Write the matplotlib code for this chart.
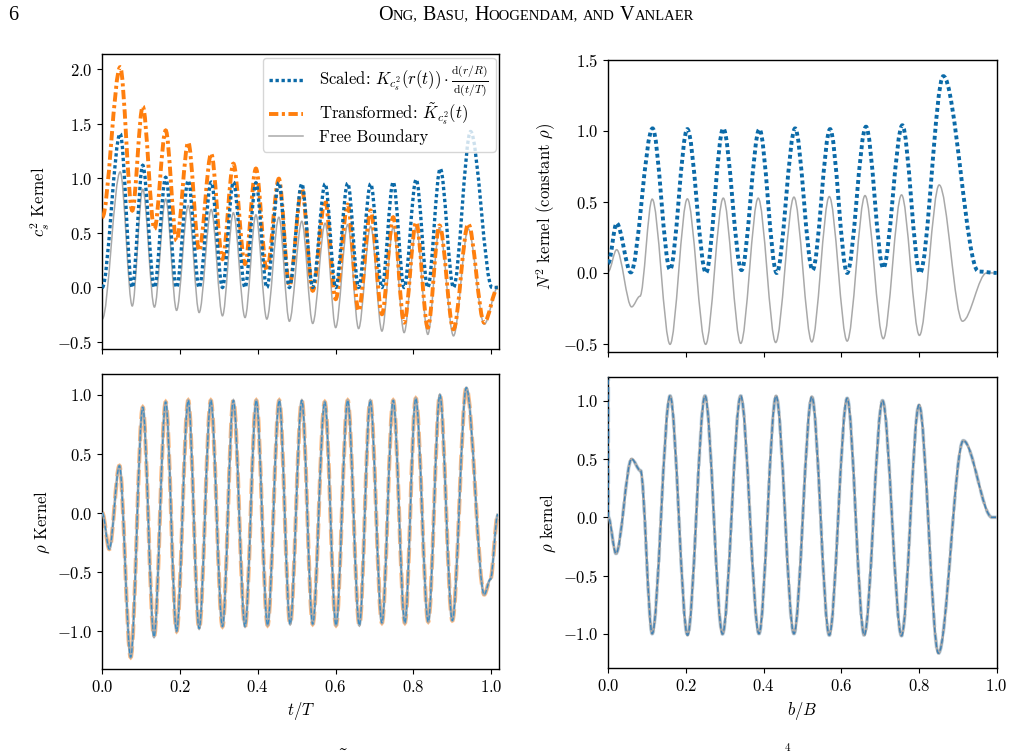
import matplotlib
matplotlib.use("Agg")
import matplotlib.pyplot as plt
from matplotlib.path import Path
from matplotlib.patches import PathPatch
from matplotlib.lines import Line2D

# ---------------- data (extrema / knots) ----------------
# top-left: c_s^2 kernels vs t/T
tl_t = [0.000, 0.046, 0.077, 0.104, 0.134, 0.163, 0.191, 0.221, 0.249, 0.280, 0.309,
        0.337, 0.367, 0.395, 0.423, 0.454, 0.481, 0.513, 0.541, 0.573, 0.600, 0.631,
        0.659, 0.690, 0.719, 0.748, 0.776, 0.807, 0.837, 0.867, 0.903, 0.941, 0.982, 1.017]
tl_free = [-0.29, 1.06, -0.17, 0.90, -0.18, 0.81, -0.21, 0.75, -0.23, 0.715, -0.26,
           0.685, -0.276, 0.666, -0.29, 0.644, -0.31, 0.607, -0.33, 0.589, -0.368, 0.577,
           -0.377, 0.561, -0.40, 0.552, -0.414, 0.552, -0.43, 0.546, -0.444, 0.537, -0.337, 0.0]
tl_trans = [0.644, 2.02, 0.705, 1.66, 0.537, 1.44, 0.43, 1.33, 0.337, 1.227, 0.26,
            1.135, 0.215, 1.09, 0.154, 0.997, 0.016, 0.905, -0.03, 0.80, -0.107, 0.76,
            -0.214, 0.706, -0.245, 0.644, -0.322, 0.598, -0.368, 0.568, -0.383, 0.583, -0.322, 0.0]
tl_scaled_t = [0.000, 0.046, 0.077, 0.104, 0.134, 0.163, 0.191, 0.221, 0.249, 0.280, 0.309,
               0.337, 0.367, 0.395, 0.423, 0.454, 0.481, 0.513, 0.541, 0.573, 0.600, 0.631,
               0.659, 0.690, 0.719, 0.748, 0.776, 0.807, 0.837, 0.869, 0.903, 0.947, 1.002, 1.017]
tl_scaled = [0.0, 1.41, 0.0, 1.12, 0.0, 1.01, 0.0, 0.98, 0.0, 0.966, 0.0,
             0.966, 0.0, 0.96, 0.0, 0.96, 0.0, 0.95, 0.0, 0.95, 0.0, 0.955,
             0.0, 0.95, 0.0, 0.966, 0.0, 0.99, 0.0, 1.09, 0.0, 1.43, 0.0, 0.0]

# top-right: N^2 kernel (constant rho) vs b/B
tr_scaled_b = [0.000, 0.0215, 0.058, 0.114, 0.159, 0.2035, 0.2515, 0.296, 0.343, 0.389, 0.4335,
               0.481, 0.526, 0.571, 0.615, 0.6635, 0.708, 0.757, 0.8025, 0.8626, 0.953, 1.000]
tr_scaled = [0.07, 0.351, 0.004, 1.018, 0.023, 1.013, 0.0, 1.018, 0.02, 1.013, 0.0,
             1.018, 0.02, 1.013, 0.0, 1.03, 0.035, 1.04, 0.0, 1.386, 0.01, 0.0]
tr_free_b = [0.000, 0.0215, 0.060, 0.0816, 0.113, 0.159, 0.2035, 0.2507, 0.296, 0.341, 0.386,
             0.431, 0.478, 0.524, 0.569, 0.615, 0.661, 0.708, 0.755, 0.801, 0.852, 0.912, 0.974, 1.000]
tr_free = [0.01, 0.164, -0.239, -0.164, 0.52, -0.503, 0.522, -0.503, 0.527, -0.496, 0.527,
           -0.49, 0.534, -0.486, 0.538, -0.48, 0.545, -0.463, 0.55, -0.44, 0.62, -0.34, 0.0, 0.0]

# bottom-left: rho kernel vs t/T (all three curves coincide)
bl_t = [0.000, 0.018, 0.044, 0.073, 0.104, 0.133, 0.163, 0.191, 0.221, 0.249, 0.279, 0.309,
        0.337, 0.367, 0.396, 0.425, 0.455, 0.483, 0.513, 0.541, 0.572, 0.601, 0.631, 0.661,
        0.689, 0.719, 0.748, 0.778, 0.806, 0.838, 0.868, 0.900, 0.936, 0.982, 0.998, 1.017]
bl_rho = [0.0, -0.305, 0.40, -1.22, 0.895, -1.047, 0.94, -1.0, 0.953, -0.977, 0.953, -0.96,
          0.953, -0.96, 0.953, -0.95, 0.953, -0.94, 0.953, -0.94, 0.94, -0.95, 0.953, -0.95,
          0.953, -0.93, 0.953, -0.93, 0.97, -0.92, 1.0, -0.91, 1.06, -0.69, -0.56, -0.01]

# bottom-right: rho kernel vs b/B
br_b = [0.000, 0.0198, 0.060, 0.083, 0.113, 0.159, 0.204, 0.249, 0.294, 0.341, 0.388, 0.432,
        0.478, 0.524, 0.569, 0.615, 0.659, 0.706, 0.755, 0.800, 0.850, 0.914, 0.988, 1.000]
br_rho = [0.0, -0.31, 0.50, 0.40, -0.997, 1.04, -1.01, 1.04, -1.0, 1.04, -0.997, 1.04,
          -0.997, 1.033, -1.01, 1.02, -1.01, 1.0, -1.015, 0.963, -1.165, 0.657, 0.0, 0.0]
br_edge_value = 2.0  # scaled curve diverges at b = 0 (clipped)

x_ticks = [0.0, 0.2, 0.4, 0.6, 0.8, 1.0]

# ---------------- style ----------------
plt.rcParams.update({
    "font.family": "serif",
    "font.serif": ["cmr10"],
    "mathtext.fontset": "cm",
    "axes.formatter.use_mathtext": True,
    "font.size": 12,
    "axes.linewidth": 1.0,
})

BLUE = "#0b6aa8"
ORANGE = "#ff7f0e"
GRAY = "#a9a9a9"
DOT = (0, (1.0, 0.8))
DASHDOT = (0, (2.4, 0.9, 0.8, 0.9))


def smooth_path(x, y):
    verts = [(x[0], y[0])]
    codes = [Path.MOVETO]
    for i in range(len(x) - 1):
        d = (x[i + 1] - x[i]) / 3.0
        verts += [(x[i] + d, y[i]), (x[i + 1] - d, y[i + 1]), (x[i + 1], y[i + 1])]
        codes += [Path.CURVE4] * 3
    return Path(verts, codes)


def draw(ax, x, y, **kw):
    p = PathPatch(smooth_path(x, y), fill=False, **kw)
    ax.add_patch(p)
    return p


fig = plt.figure(figsize=(10.14, 7.56), dpi=100)
W, H = 1014.0, 756.0


def add_ax(l, t, r, b):
    return fig.add_axes([l / W, 1 - b / H, (r - l) / W, (b - t) / H])


ax_tl = add_ax(102.3, 54.3, 499.0, 349.3)
ax_tr = add_ax(608.3, 60.0, 996.7, 352.3)
ax_bl = add_ax(102.3, 374.3, 499.0, 669.0)
ax_br = add_ax(608.3, 377.3, 996.7, 668.3)

# top-left
draw(ax_tl, tl_t, tl_free, color=GRAY, lw=1.1, zorder=2)
draw(ax_tl, tl_t, tl_trans, color=ORANGE, lw=2.8, ls=DASHDOT, zorder=3)
draw(ax_tl, tl_scaled_t, tl_scaled, color=BLUE, lw=2.4, ls=DOT, zorder=4)
ax_tl.set_xlim(0, 1.02)
ax_tl.set_ylim(-0.567, 2.138)
ax_tl.set_yticks([-0.5, 0.0, 0.5, 1.0, 1.5, 2.0])
ax_tl.set_ylabel(r"$c_s^2$ Kernel")
handles = [
    Line2D([], [], color=BLUE, lw=2.4, ls=DOT),
    Line2D([], [], color=ORANGE, lw=2.8, ls=DASHDOT),
    Line2D([], [], color=GRAY, lw=1.1),
]
labels = [
    r"Scaled: $K_{c_s^2}(r(t))\cdot\frac{\mathrm{d}(r/R)}{\mathrm{d}(t/T)}$",
    r"Transformed: $\tilde{K}_{c_s^2}(t)$",
    "Free Boundary",
]
ax_tl.legend(handles, labels, loc="upper right", fontsize=12, labelspacing=0.12,
             borderaxespad=0.2, handlelength=2.0, handletextpad=1.0, borderpad=0.4)

# top-right
draw(ax_tr, tr_free_b, tr_free, color=GRAY, lw=1.1, zorder=2)
draw(ax_tr, tr_scaled_b, tr_scaled, color=BLUE, lw=2.8, ls=DOT, zorder=3)
ax_tr.set_xlim(0, 1)
ax_tr.set_ylim(-0.559, 1.5)
ax_tr.set_yticks([-0.5, 0.0, 0.5, 1.0, 1.5])
ax_tr.set_ylabel(r"$N^2$ kernel (constant $\rho$)")

# bottom-left
draw(ax_bl, bl_t, bl_rho, color=ORANGE, lw=3.0, ls="--", alpha=0.5, zorder=2)
draw(ax_bl, bl_t, bl_rho, color=GRAY, lw=1.9, zorder=3)
draw(ax_bl, bl_t, bl_rho, color="#3a8cc4", lw=0.9, ls="--", zorder=4)
ax_bl.set_xlim(0, 1.02)
ax_bl.set_ylim(-1.32, 1.174)
ax_bl.set_yticks([-1.0, -0.5, 0.0, 0.5, 1.0])
ax_bl.set_ylabel(r"$\rho$ Kernel")
ax_bl.set_xlabel(r"$t/T$")

# bottom-right
br_scaled_b = [0.0] + br_b
br_scaled = [br_edge_value] + br_rho
draw(ax_br, br_scaled_b, br_scaled, color="#8fbde0", lw=2.8, ls="--", alpha=0.45, zorder=2)
draw(ax_br, br_b, br_rho, color=GRAY, lw=2.0, zorder=3)
draw(ax_br, br_scaled_b, br_scaled, color="#2b7bba", lw=1.0, ls="--", alpha=0.85, zorder=4)
ax_br.set_xlim(0, 1)
ax_br.set_ylim(-1.294, 1.20)
ax_br.set_yticks([-1.0, -0.5, 0.0, 0.5, 1.0])
ax_br.set_ylabel(r"$\rho$ kernel")
ax_br.set_xlabel(r"$b/B$")

for ax in (ax_tl, ax_tr, ax_bl, ax_br):
    ax.set_xticks(x_ticks)
for ax in (ax_tl, ax_tr):
    ax.tick_params(labelbottom=False)

# ---------------- page header (small caps) ----------------
renderer = fig.canvas.get_renderer()
hdr_font = "Liberation Serif"
big, small = 14.5, 10.5
words = [("O", "NG,"), ("B", "ASU,"), ("H", "OOGENDAM,"), ("", "AND"), ("V", "ANLAER")]
y_base = 1 - 19.5 / H
pieces = []
for first, rest in words:
    if first:
        pieces.append(fig.text(0, y_base, first, fontsize=big, family=hdr_font, va="baseline"))
    pieces.append(fig.text(0, y_base, rest, fontsize=small, family=hdr_font, va="baseline"))
    pieces.append(None)
pieces = pieces[:-1]
space = 0.25 * big * 100 / 72.0
widths = [p.get_window_extent(renderer).width if p is not None else space for p in pieces]
total = sum(widths)
x = 536.0 - total / 2
for p, w in zip(pieces, widths):
    if p is not None:
        p.set_x(x / W)
    x += w
fig.text(8 / W, y_base, "6", fontsize=big, family=hdr_font, va="baseline")

# cut-off caption fragments at the bottom edge
fig.text(340 / W, 1 - 753 / H, r"$\tilde{\ \ \ }$", fontsize=15, ha="center", va="baseline")
fig.text(787 / W, 1 - 751 / H, "4", fontsize=8, ha="center", va="baseline")

fig.savefig("out.png", dpi=100)
